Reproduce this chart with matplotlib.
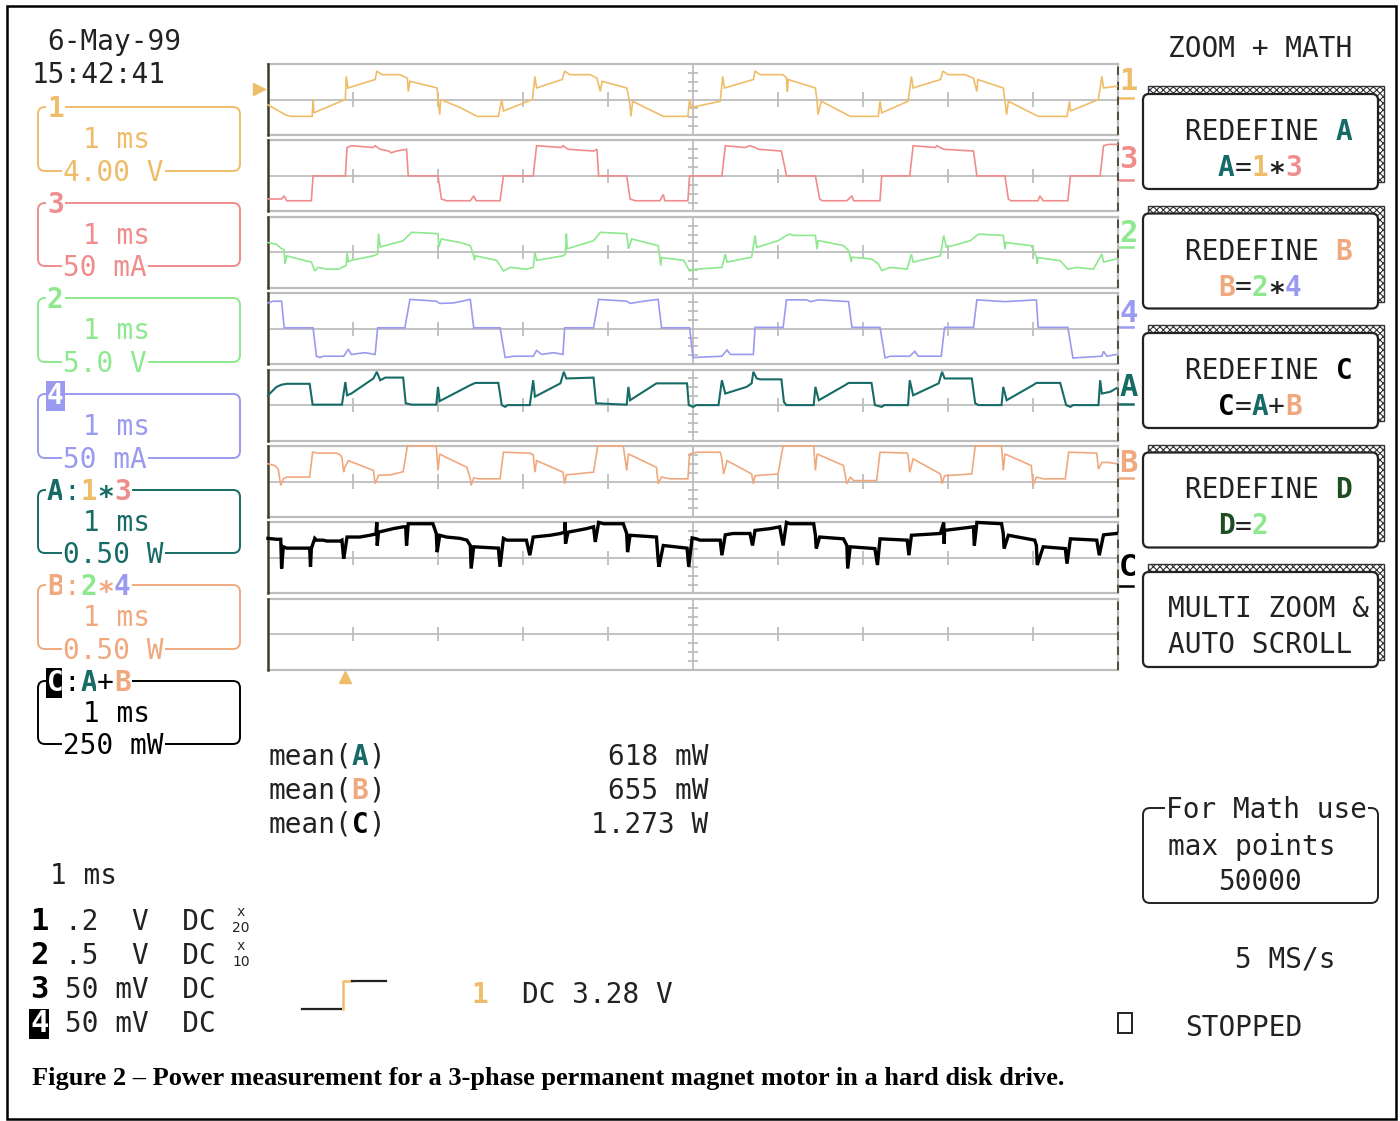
import matplotlib
matplotlib.use('Agg')
import matplotlib.pyplot as plt
from matplotlib.patches import FancyBboxPatch, Rectangle

plt.rcParams['font.family'] = ['DejaVu Sans Mono', 'DejaVu Sans']
plt.rcParams['hatch.linewidth'] = 0.8

# colours of the scope screen
ORANGE = '#efbd6a'
RED = '#f08c8c'
GREEN = '#8ee88e'
BLUE = '#9a9af0'
TEAL = '#176b66'
PEACH = '#f0a97f'
DGREEN = '#1e4d22'
GRID = '#bdbdbd'
EDGE = '#3d3d26'

# ---- waveforms: (time in ms, amplitude in divisions) ----
ch1_pts = [(0.00, -0.6), (0.20, -1.7), (0.26, -1.9), (0.52, -1.9), (0.53, 0.0), (0.54, -1.5),
           (0.91, 0.0), (0.92, 2.6), (0.94, 1.3), (1.26, 2.25), (1.28, 3.2), (1.34, 2.8),
           (1.55, 2.8), (1.64, 2.4), (1.65, 0.9), (1.67, 2.05), (1.99, 1.3), (2.00, 0.0),
           (2.02, -1.7), (2.03, 0.0), (2.26, -0.9), (2.46, -1.9), (2.71, -1.9), (2.75, 0.0),
           (2.77, -1.3), (3.11, 0.0), (3.14, 2.6), (3.16, 1.3), (3.46, 2.25), (3.49, 3.2),
           (3.55, 2.8), (3.79, 2.8), (3.87, 2.4), (3.91, 0.9), (3.93, 2.05), (4.22, 1.3),
           (4.25, 0.0), (4.27, -1.9), (4.29, -0.2), (4.65, -1.9), (4.94, -1.9), (4.96, 0.0),
           (4.98, -0.9), (5.32, -0.2), (5.35, 2.6), (5.37, 1.3), (5.71, 2.25), (5.73, 3.2),
           (5.79, 2.8), (6.06, 2.8), (6.10, 2.4), (6.11, 0.9), (6.12, 2.25), (6.44, 1.3),
           (6.46, -0.2), (6.47, -1.7), (6.51, -0.2), (6.85, -1.9), (7.18, -1.9), (7.20, -0.2),
           (7.22, -1.5), (7.53, -0.2), (7.57, 2.6), (7.59, 1.3), (7.91, 2.25), (7.94, 3.2),
           (8.00, 2.8), (8.20, 2.8), (8.30, 2.4), (8.34, 0.9), (8.35, 2.25), (8.65, 1.3),
           (8.67, -0.2), (8.69, -1.7), (8.71, -0.2), (9.06, -1.9), (9.40, -1.9), (9.43, -0.2),
           (9.44, -1.3), (9.77, 0.0), (9.81, 2.6), (9.83, 1.3), (9.99, 1.5)]

ch3_pts = [(0.00, -2.6), (0.16, -2.6), (0.19, -2.25), (0.22, -2.8), (0.51, -2.8), (0.53, 0.0),
           (0.91, 0.0), (0.93, 3.2), (0.98, 3.4), (1.24, 3.2), (1.26, 3.4), (1.32, 3.0),
           (1.42, 2.8), (1.45, 2.6), (1.51, 2.8), (1.63, 3.0), (1.65, 0.0), (2.00, 0.0),
           (2.04, -2.6), (2.10, -2.8), (2.38, -2.8), (2.42, -2.25), (2.45, -2.8), (2.73, -2.8),
           (2.77, 0.0), (3.12, 0.0), (3.16, 3.4), (3.45, 3.2), (3.47, 3.4), (3.53, 3.0),
           (3.83, 2.8), (3.87, 3.0), (3.89, 0.0), (4.22, 0.0), (4.26, -2.6), (4.32, -2.8),
           (4.61, -2.8), (4.65, -2.1), (4.67, -2.8), (4.94, -2.8), (4.96, 0.0), (5.34, 0.0),
           (5.38, 3.4), (5.61, 3.2), (5.67, 3.4), (5.73, 3.2), (5.77, 3.0), (6.04, 2.8),
           (6.10, 0.0), (6.44, 0.0), (6.49, -2.6), (6.52, -2.8), (6.81, -2.8), (6.87, -2.25),
           (6.89, -2.8), (7.20, -2.8), (7.22, 0.0), (7.55, 0.0), (7.59, 3.4), (7.85, 3.2),
           (7.87, 3.4), (7.95, 3.0), (8.30, 2.8), (8.34, 0.0), (8.67, 0.0), (8.71, -2.6),
           (8.74, -2.8), (9.06, -2.8), (9.08, -2.25), (9.12, -2.8), (9.41, -2.8), (9.44, 0.0),
           (9.79, 0.0), (9.83, 3.4), (9.89, 3.55), (9.99, 3.55)]

ch2_pts = [(0.00, 1.1), (0.10, 0.9), (0.16, 0.4), (0.19, 0.3), (0.20, -1.3), (0.22, -0.4),
           (0.42, -0.9), (0.51, -1.1), (0.55, -2.1), (0.59, -1.7), (0.69, -1.9), (0.83, -1.9),
           (0.87, -1.7), (0.92, -1.5), (0.93, 0.0), (0.945, -1.1), (0.98, -0.9), (1.24, -0.4),
           (1.29, -0.2), (1.30, 2.1), (1.32, 0.6), (1.59, 1.3), (1.63, 1.7), (1.69, 2.25),
           (2.00, 2.1), (2.01, 0.6), (2.02, 0.9), (2.04, 1.5), (2.26, 1.1), (2.38, 0.75),
           (2.42, -0.4), (2.43, -0.9), (2.44, -0.4), (2.69, -0.9), (2.77, -2.1), (2.85, -1.7),
           (3.04, -1.9), (3.12, -1.7), (3.14, 0.0), (3.16, -0.9), (3.47, -0.4), (3.50, -0.2),
           (3.51, 2.1), (3.52, 0.4), (3.83, 1.3), (3.91, 2.25), (4.22, 2.1), (4.24, 0.4),
           (4.28, 1.5), (4.59, 0.75), (4.61, -0.6), (4.62, -1.5), (4.63, -0.6), (4.89, -0.9),
           (4.96, -2.1), (5.04, -1.9), (5.34, -1.7), (5.38, -0.2), (5.40, -1.1), (5.69, -0.55),
           (5.73, 1.9), (5.75, 0.55), (6.00, 1.3), (6.10, 1.9), (6.14, 2.05), (6.18, 1.9),
           (6.44, 1.9), (6.46, 0.35), (6.47, 1.3), (6.49, 1.3), (6.77, 0.75), (6.83, 0.2),
           (6.85, -0.55), (6.86, -1.1), (6.87, -0.55), (7.10, -0.75), (7.18, -1.3), (7.22, -2.05),
           (7.32, -1.7), (7.52, -1.9), (7.57, -0.2), (7.59, -1.1), (7.91, -0.4), (7.95, 1.9),
           (7.98, 0.55), (8.26, 1.3), (8.36, 2.05), (8.65, 1.9), (8.67, 0.35), (8.68, 1.1),
           (8.98, 0.75), (9.04, -0.55), (9.05, -1.3), (9.06, -0.6), (9.32, -0.95), (9.41, -1.9),
           (9.51, -1.7), (9.71, -1.9), (9.81, -0.2), (9.83, -1.1), (9.98, -0.75)]

ch4_pts = [(0.00, 2.9), (0.06, 3.1), (0.16, 3.1), (0.19, 0.1), (0.53, 0.1), (0.57, -3.1),
           (0.61, -3.25), (0.65, -3.1), (0.89, -3.1), (0.945, -2.3), (0.98, -2.9), (1.14, -2.7),
           (1.26, -2.9), (1.29, 0.1), (1.61, 0.1), (1.67, 3.3), (1.98, 3.1), (2.02, 2.85),
           (2.18, 2.9), (2.38, 3.3), (2.42, 0.1), (2.73, 0.1), (2.79, -3.25), (2.89, -3.1),
           (3.12, -3.1), (3.16, -2.45), (3.22, -2.9), (3.36, -2.7), (3.47, -2.9), (3.49, 0.1),
           (3.83, 0.1), (3.89, 3.3), (4.22, 3.1), (4.26, 2.85), (4.42, 3.1), (4.59, 3.3),
           (4.63, 0.1), (4.96, 0.1), (5.00, -3.25), (5.34, -3.1), (5.40, -2.4), (5.44, -2.9),
           (5.71, -2.9), (5.73, 0.15), (6.06, 0.15), (6.10, 3.25), (6.34, 3.25), (6.38, 3.05),
           (6.48, 3.25), (6.83, 3.05), (6.87, 0.15), (7.20, 0.15), (7.26, -3.3), (7.32, -3.1),
           (7.55, -3.1), (7.61, -2.55), (7.65, -3.1), (7.92, -3.1), (7.96, 0.15), (8.30, 0.15),
           (8.34, 3.25), (8.67, 3.05), (9.04, 3.25), (9.06, 0.15), (9.41, 0.15), (9.47, -3.3),
           (9.81, -3.1), (9.83, -2.55), (9.87, -3.1), (9.98, -2.9)]

chA_pts = [(0.00, 1.1), (0.10, 2.05), (0.16, 2.3), (0.22, 2.4), (0.49, 2.4), (0.525, 0.05),
           (0.87, 0.05), (0.91, 2.6), (0.93, 1.1), (0.98, 1.3), (1.24, 3.0), (1.28, 3.75),
           (1.32, 2.8), (1.38, 3.1), (1.59, 3.1), (1.62, 0.2), (1.69, 0.05), (1.98, 0.05),
           (2.00, 2.05), (2.02, 0.45), (2.38, 2.25), (2.44, 2.5), (2.71, 2.5), (2.75, 0.0),
           (2.79, -0.2), (2.82, 0.0), (3.08, 0.0), (3.12, 2.8), (3.14, 0.95), (3.44, 2.45),
           (3.48, 3.75), (3.51, 3.0), (3.83, 3.1), (3.86, 0.2), (4.22, 0.05), (4.24, 2.05),
           (4.26, 0.55), (4.57, 2.45), (4.93, 2.45), (4.95, 0.0), (5.00, -0.2), (5.04, 0.0),
           (5.30, 0.0), (5.34, 2.8), (5.38, 1.3), (5.63, 2.05), (5.69, 2.45), (5.71, 3.75),
           (5.75, 3.0), (5.79, 2.9), (6.04, 2.9), (6.07, 0.35), (6.10, 0.0), (6.42, 0.0),
           (6.44, 2.05), (6.48, 0.55), (6.79, 2.25), (6.83, 2.5), (7.10, 2.5), (7.14, 0.0),
           (7.22, -0.2), (7.25, 0.0), (7.53, 0.0), (7.55, 2.8), (7.59, 1.1), (7.89, 2.45),
           (7.93, 3.75), (7.96, 3.0), (8.28, 3.0), (8.32, 0.2), (8.36, 0.0), (8.63, 0.0),
           (8.65, 2.05), (8.69, 0.55), (9.00, 2.25), (9.04, 2.5), (9.32, 2.5), (9.39, 0.0),
           (9.44, -0.2), (9.47, 0.0), (9.77, 0.0), (9.79, 2.8), (9.81, 1.3), (9.91, 1.5),
           (9.98, 1.9)]

chB_pts = [(0.00, 2.0), (0.08, 1.8), (0.12, 1.4), (0.15, -0.45), (0.18, 0.3), (0.22, 0.5),
           (0.49, 0.5), (0.525, 3.3), (0.59, 3.2), (0.81, 3.2), (0.85, 3.0), (0.87, 2.7),
           (0.89, 1.05), (0.90, 1.5), (0.945, 2.35), (1.24, 1.25), (1.26, -0.25), (1.30, 0.7),
           (1.44, 0.75), (1.59, 1.1), (1.64, 4.0), (1.98, 4.0), (2.00, 1.25), (2.02, 3.1),
           (2.10, 2.7), (2.34, 1.6), (2.38, 0.3), (2.39, -0.45), (2.42, 0.4), (2.49, 0.3),
           (2.73, 0.3), (2.77, 3.3), (3.08, 3.2), (3.12, 3.0), (3.14, 1.05), (3.16, 2.35),
           (3.47, 1.05), (3.49, -0.25), (3.51, 0.75), (3.83, 1.05), (3.88, 4.0), (4.18, 4.0),
           (4.22, 1.25), (4.24, 3.1), (4.57, 1.6), (4.59, -0.25), (4.63, 0.5), (4.73, 0.3),
           (4.94, 0.3), (4.96, 3.1), (5.04, 3.3), (5.32, 3.3), (5.34, 2.55), (5.36, 0.85),
           (5.40, 2.35), (5.69, 0.85), (5.71, -0.25), (5.73, 0.65), (6.00, 0.85), (6.06, 4.0),
           (6.42, 4.0), (6.44, 1.25), (6.46, 3.1), (6.77, 1.8), (6.81, -0.25), (6.85, 0.5),
           (6.89, 0.1), (7.16, 0.1), (7.20, 3.3), (7.52, 3.2), (7.53, 2.9), (7.55, 1.05),
           (7.59, 2.55), (7.91, 0.85), (7.93, -0.25), (7.96, 0.65), (8.28, 0.85), (8.32, 4.0),
           (8.63, 4.0), (8.65, 1.25), (8.67, 3.1), (8.98, 1.8), (9.00, -0.45), (9.04, 0.5),
           (9.12, 0.3), (9.38, 0.3), (9.42, 3.3), (9.75, 3.2), (9.77, 1.4), (9.81, 2.15),
           (9.89, 2.15), (9.98, 2.0)]

chC_pts = [(0.00, 2.2), (0.10, 2.1), (0.15, 2.1), (0.16, -1.2), (0.18, 1.25), (0.22, 1.1),
           (0.49, 1.1), (0.50, -1.0), (0.51, 1.05), (0.55, 2.2), (0.57, 2.0), (0.65, 2.0),
           (0.69, 1.9), (0.85, 1.9), (0.87, 2.0), (0.89, -0.1), (0.91, 1.1), (0.93, 2.35),
           (1.08, 2.35), (1.20, 2.55), (1.27, 2.7), (1.28, 4.0), (1.285, 1.4), (1.30, 2.9),
           (1.475, 3.3), (1.59, 3.5), (1.62, 3.5), (1.63, 1.4), (1.65, 3.85), (1.94, 3.85),
           (1.98, 2.75), (1.99, 0.65), (2.02, 2.55), (2.10, 2.35), (2.26, 2.2), (2.34, 2.0),
           (2.38, 1.4), (2.39, -1.2), (2.42, 1.25), (2.71, 1.1), (2.73, -1.0), (2.77, 2.2),
           (2.81, 2.0), (3.04, 2.0), (3.08, 0.3), (3.12, 2.35), (3.32, 2.55), (3.44, 2.75),
           (3.49, 2.9), (3.495, 4.0), (3.50, 1.6), (3.53, 2.9), (3.75, 3.3), (3.83, 3.5),
           (3.85, 1.8), (3.89, 4.0), (3.95, 3.85), (4.18, 3.85), (4.22, 2.75), (4.23, 0.65),
           (4.26, 2.55), (4.57, 2.35), (4.59, -0.25), (4.60, -1.0), (4.65, 1.4), (4.93, 1.1),
           (4.95, -1.0), (4.99, 2.25), (5.04, 2.15), (5.08, 2.0), (5.32, 2.0), (5.34, 0.3),
           (5.38, 2.6), (5.47, 2.75), (5.67, 2.75), (5.70, 1.4), (5.73, 3.1), (5.91, 3.3),
           (6.02, 3.5), (6.06, 1.4), (6.10, 4.0), (6.14, 3.85), (6.42, 3.85), (6.44, 2.55),
           (6.45, 1.05), (6.49, 2.35), (6.77, 2.15), (6.81, 1.4), (6.82, -1.2), (6.85, 1.25),
           (7.14, 1.05), (7.17, -0.8), (7.20, 2.15), (7.52, 2.0), (7.54, 0.3), (7.57, 2.55),
           (7.91, 2.75), (7.95, 4.0), (7.955, 1.6), (7.96, 3.1), (8.30, 3.5), (8.31, 1.4),
           (8.34, 4.0), (8.63, 3.85), (8.65, 2.75), (8.66, 1.05), (8.71, 2.55), (9.02, 2.0),
           (9.04, 1.4), (9.05, -0.8), (9.12, 1.25), (9.38, 1.05), (9.40, -0.65), (9.44, 2.15),
           (9.75, 2.0), (9.78, 0.3), (9.83, 2.6), (9.98, 2.75)]

# screen text
date_text = '6-May-99'
time_text = '15:42:41'
mean_labels = ['A', 'B', 'C']
mean_values = ['618 mW', '655 mW', '1.273 W']
timebase = '1 ms'
sample_rate = '5 MS/s'
caption = 'Figure 2 \u2013 Power measurement for a 3-phase permanent magnet motor in a hard disk drive.'

W, H = 1400, 1121
FS = 20
PITCH = 0.602 * FS * 100 / 72
YOFF = 2  # nudge so capitals sit on the given centre line

fig = plt.figure(figsize=(W / 100, H / 100), dpi=100)
bg = fig.add_axes([0, 0, 1, 1])
bg.set_xlim(0, W)
bg.set_ylim(H, 0)
bg.axis('off')


def put(x, y, pieces, fs=FS, box=None):
    # pieces: list of (text, colour, bold, background)
    for p in pieces:
        text, color, bold = p[0], p[1], p[2]
        back = p[3] if len(p) > 3 else box
        kw = {}
        if back is not None:
            kw['bbox'] = dict(facecolor=back, edgecolor='none', pad=1.0)
        bg.text(x, y + YOFF, text, color=color, fontsize=fs, fontweight='bold' if bold else 'normal',
                ha='left', va='center', family=['DejaVu Sans Mono', 'DejaVu Sans'], **kw)
        x += len(text) * 0.602 * fs * 100 / 72


# ---- outer frame ----
bg.add_patch(Rectangle((7, 6), 1389, 1113, fill=False, ec='black', lw=1.8))

# ---- trace grids ----
rows = [(ch1_pts, ORANGE, 1.2), (ch3_pts, RED, 1.2), (ch2_pts, GREEN, 1.2), (ch4_pts, BLUE, 1.2),
        (chA_pts, TEAL, 1.5), (chB_pts, PEACH, 1.2), (chC_pts, 'black', 2.4), (None, None, 0)]
X0, X1 = 268, 1118
TOP0, PITCH_ROW, GH = 64, 76.4, 71
for i, (pts, color, lw) in enumerate(rows):
    top = TOP0 + i * PITCH_ROW
    ax = fig.add_axes([X0 / W, 1 - (top + GH) / H, (X1 - X0) / W, GH / H])
    ax.set_xlim(0, 10)
    ax.set_ylim(-4, 4)
    ax.axis('off')
    for yy in (-4, 4):
        ax.axhline(yy, color=GRID, lw=1.6, clip_on=False)
    ax.axhline(0, color=GRID, lw=1.3)
    ax.vlines([1, 2, 3, 4, 6, 7, 8, 9], -0.8, 0.8, color=GRID, lw=1.3)
    ax.axvline(5, color=GRID, lw=1.3)
    ax.hlines([-3, -2, -1, 1, 2, 3], 4.947, 5.053, color=GRID, lw=1.3)
    ax.axvline(10, color=GRID, lw=1.6, clip_on=False)
    ax.axvline(10, color=EDGE, lw=1.2, ls=(0, (5, 4)), clip_on=False)
    ax.axvline(0, color=EDGE, lw=1.8, clip_on=False)
    if pts is not None:
        t, v = zip(*pts)
        ax.plot(t, v, color=color, lw=lw, solid_joinstyle='miter', clip_on=False)

# trigger markers
bg.plot([259], [89], marker='>', color=ORANGE, ms=8)
bg.plot([345], [677], marker='^', color=ORANGE, ms=9)

# channel tags at the right edge of the grid
tags = [('1', ORANGE, 80, 98), ('3', RED, 157, 180), ('2', GREEN, 232, 247), ('4', BLUE, 311, 327),
        ('A', TEAL, 385, 404), ('B', PEACH, 461, 478), ('C', 'black', 566, 586)]
for txt, color, yc, yu in tags:
    bg.text(1119, yc + YOFF, txt, color=color, fontsize=22, fontweight='bold', ha='left', va='center')
    bg.plot([1119, 1133], [yu, yu], color=color, lw=1.8)

# ---- date / time ----
put(47, 40, [(date_text, '#222222', False)])
put(32, 73, [(time_text, '#222222', False)])

# ---- left channel boxes ----
STAR = '\u2217'
boxes = [
    (107, 171, ORANGE, [('1', ORANGE, True)], '4.00 V'),
    (203, 266, RED, [('3', RED, True)], '50 mA'),
    (298, 362, GREEN, [('2', GREEN, True)], '5.0 V'),
    (394, 458, BLUE, [('4', 'white', True, BLUE)], '50 mA'),
    (490, 553, TEAL, [('A', TEAL, True), (':', TEAL, False), ('1', ORANGE, True),
                      (STAR, TEAL, True), ('3', RED, True)], '0.50 W'),
    (585, 649, PEACH, [('B', PEACH, True), (':', PEACH, False), ('2', GREEN, True),
                       (STAR, PEACH, True), ('4', BLUE, True)], '0.50 W'),
    (681, 744, 'black', [('C', 'white', True, 'black'), (':', 'black', False), ('A', TEAL, True),
                         ('+', 'black', False), ('B', PEACH, True)], '250 mW'),
]
for ytop, ybot, color, label, scale in boxes:
    bg.add_patch(FancyBboxPatch((38, ytop), 202, ybot - ytop, boxstyle='round,pad=0,rounding_size=7',
                                fill=False, ec=color, lw=1.4))
    put(47, ytop, label, box='white')
    put(83, ytop + 31, [(timebase, color, False)])
    put(63, ybot, [(scale, color, False)], box='white')

# ---- right-hand menu buttons ----
put(1168, 47, [('ZOOM + MATH', '#222222', False)])
buttons = [
    [[('REDEFINE ', '#222222', False), ('A', TEAL, True)],
     [('A', TEAL, True), ('=', '#222222', False), ('1', ORANGE, True), (STAR, '#222222', True), ('3', RED, True)]],
    [[('REDEFINE ', '#222222', False), ('B', PEACH, True)],
     [('B', PEACH, True), ('=', '#222222', False), ('2', GREEN, True), (STAR, '#222222', True), ('4', BLUE, True)]],
    [[('REDEFINE ', '#222222', False), ('C', 'black', True)],
     [('C', 'black', True), ('=', '#222222', False), ('A', TEAL, True), ('+', '#222222', False), ('B', PEACH, True)]],
    [[('REDEFINE ', '#222222', False), ('D', DGREEN, True)],
     [('D', DGREEN, True), ('=', '#222222', False), ('2', GREEN, True)]],
    [[('MULTI ZOOM &', '#222222', False)], [('AUTO SCROLL', '#222222', False)]],
]
for k, (line1, line2) in enumerate(buttons):
    y0 = 86 + 119.5 * k
    bg.add_patch(Rectangle((1148, y0), 236, 96, fc='white', ec='#333333', lw=1.0, hatch='xxxxx'))
    bg.add_patch(FancyBboxPatch((1143, y0 + 8), 235, 95, boxstyle='round,pad=0,rounding_size=6',
                                fc='white', ec='#222222', lw=1.6))
    if k < 4:
        put(1185, y0 + 44, line1)
        put(1218, y0 + 80, line2)
    else:
        put(1168, y0 + 43, line1)
        put(1168, y0 + 79, line2)

# ---- mean measurements ----
for j, (lab, val) in enumerate(zip(mean_labels, mean_values)):
    yy = 755 + 34 * j
    col = {'A': TEAL, 'B': PEACH, 'C': 'black'}[lab]
    put(268, yy, [('mean(', '#222222', False), (lab, col, True), (')', '#222222', False)])
    put(708 - len(val) * PITCH, yy, [(val, '#222222', False)])

# ---- math points box ----
bg.add_patch(FancyBboxPatch((1143, 808), 235, 95, boxstyle='round,pad=0,rounding_size=7',
                            fill=False, ec='#222222', lw=1.4))
put(1166, 808, [('For Math use', '#222222', False)], box='white')
put(1168, 845, [('max points', '#222222', False)])
put(1218, 880, [('50000', '#222222', False)])
put(1235, 958, [(sample_rate, '#222222', False)])
bg.add_patch(Rectangle((1118, 1013), 14, 20, fill=False, ec='#222222', lw=1.4))
put(1185, 1026, [('STOPPED', '#222222', False)])

# ---- channel settings (bottom left) ----
put(50, 874, [(timebase, '#222222', False)])
settings = [('1', '.2  V  DC', '20'), ('2', '.5  V  DC', '10'), ('3', '50 mV  DC', None), ('4', '50 mV  DC', None)]
for j, (num, rest, att) in enumerate(settings):
    yy = 920 + 34 * j
    if num == '4':
        bg.text(30, yy + YOFF, num, color='white', fontsize=22, fontweight='bold', ha='left', va='center',
                bbox=dict(facecolor='black', edgecolor='none', pad=0.5))
    else:
        bg.text(30, yy + YOFF, num, color='black', fontsize=22, fontweight='bold', ha='left', va='center')
    put(65, yy, [(rest, '#222222', False)])
    if att:
        bg.text(241, yy - 8, 'x', color='#222222', fontsize=10, ha='center', va='center')
        bg.text(241, yy + 8, att, color='#222222', fontsize=10, ha='center', va='center',
                family='DejaVu Sans Condensed')

# trigger symbol
bg.plot([302, 341], [1009, 1009], color='#222222', lw=1.6)
bg.plot([343, 343, 352], [1009, 981, 981], color=ORANGE, lw=1.8)
bg.plot([352, 386], [981, 981], color='#222222', lw=1.6)
put(472, 993, [('1', ORANGE, True)])
put(522, 993, [('DC 3.28 V', '#222222', False)])

# ---- caption ----
bg.text(32, 1079, caption, family='Liberation Serif', fontweight='bold', fontsize=19,
        ha='left', va='center', color='black')

fig.savefig('out.png', dpi=100)
